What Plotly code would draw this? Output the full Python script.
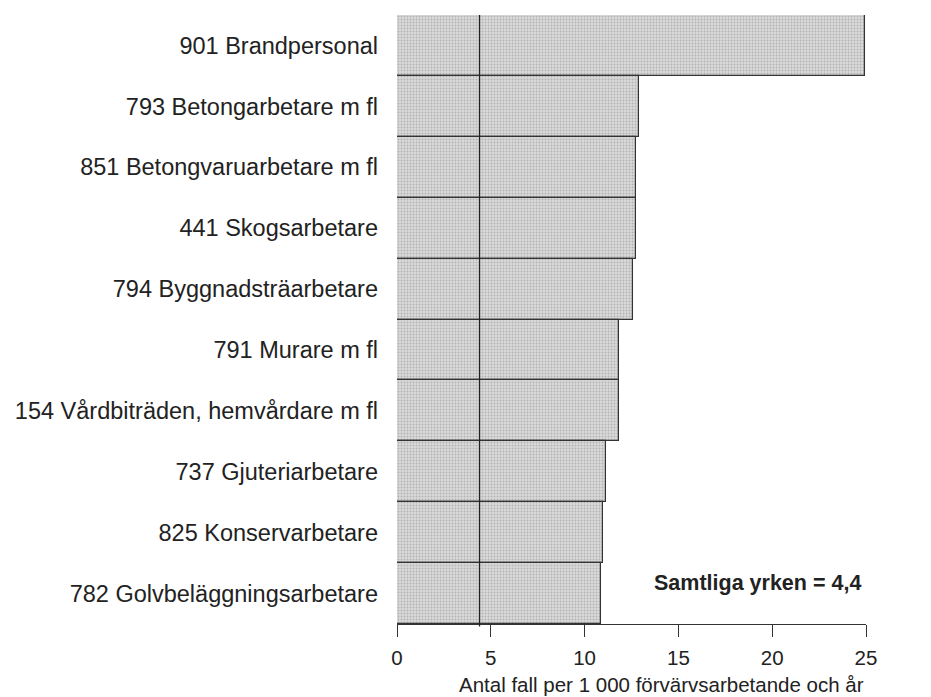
import plotly.graph_objects as go

categories = [
    "901 Brandpersonal",
    "793 Betongarbetare m fl",
    "851 Betongvaruarbetare m fl",
    "441 Skogsarbetare",
    "794 Byggnadsträarbetare",
    "791 Murare m fl",
    "154 Vårdbiträden, hemvårdare m fl",
    "737 Gjuteriarbetare",
    "825 Konservarbetare",
    "782 Golvbeläggningsarbetare",
]
values = [24.95, 12.9, 12.75, 12.75, 12.6, 11.85, 11.85, 11.15, 11.0, 10.85]
all_occupations = 4.4
x_ticks = [0, 5, 10, 15, 20, 25]
x_title = "Antal fall per 1 000 förvärvsarbetande och år"
note = "Samtliga yrken = 4,4"

font_family = "Liberation Sans, Arial, Helvetica, sans-serif"
text_color = "#222222"

fig = go.Figure()
fig.add_trace(go.Bar(
    x=values,
    y=categories,
    orientation="h",
    marker=dict(
        color="#d4d4d4",
        line=dict(color="#333333", width=1.2),
        pattern=dict(shape=".", fgcolor="#888888", bgcolor="#dadada", size=3, solidity=0.3),
    ),
    showlegend=False,
))

fig.add_shape(
    type="line", xref="x", yref="paper",
    x0=all_occupations, x1=all_occupations, y0=-0.004, y1=1,
    line=dict(color="#222222", width=1.3),
)

fig.add_annotation(
    text=x_title, xref="x", yref="paper", x=25, y=-0.1,
    xanchor="right", yanchor="middle", showarrow=False,
    font=dict(family=font_family, size=20.5, color=text_color),
)
fig.add_annotation(
    text="<b>" + note + "</b>", xref="x", yref="paper", x=25, y=0.0673,
    xanchor="right", yanchor="middle", xshift=-3, showarrow=False,
    font=dict(family=font_family, size=21.5, color=text_color),
)

fig.update_layout(
    width=923, height=689,
    margin=dict(l=385, r=65, t=7, b=73),
    paper_bgcolor="white", plot_bgcolor="white",
    bargap=0,
    font=dict(family=font_family, color=text_color),
)
fig.update_xaxes(
    range=[0, 25], tickvals=x_ticks, ticktext=[str(t) for t in x_ticks],
    showline=True, linecolor="#333333", linewidth=1,
    ticks="outside", ticklen=12, tickcolor="#333333", tickwidth=1.2,
    showgrid=False, zeroline=False, ticklabelstandoff=3,
    tickfont=dict(family=font_family, size=20.5, color=text_color),
)
fig.update_yaxes(
    categoryorder="array", categoryarray=categories, autorange="reversed",
    showline=False, showgrid=False, ticks="", ticklabelstandoff=18,
    tickfont=dict(family=font_family, size=23.5, color=text_color),
)

fig.write_html("out.html")
